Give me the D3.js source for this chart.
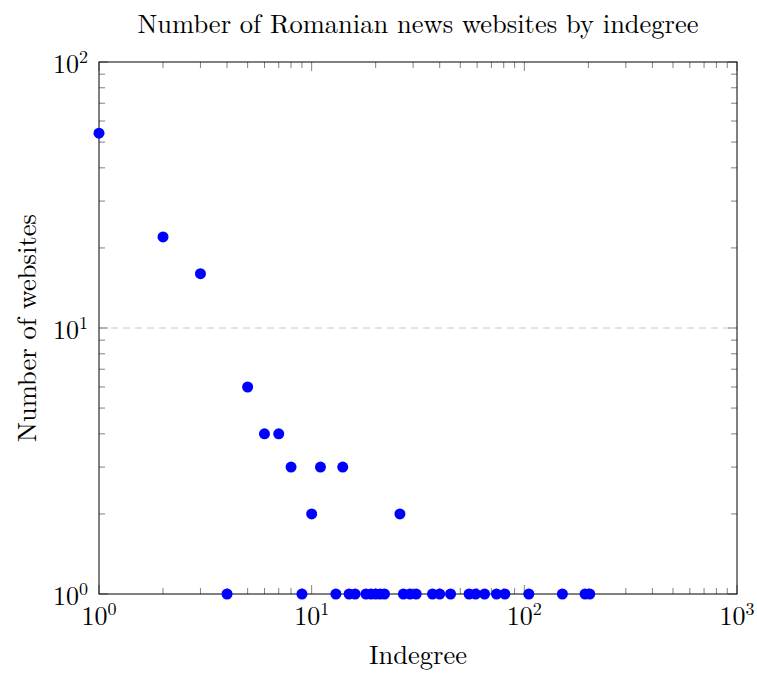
<!DOCTYPE html>
<html>
<head>
<meta charset="utf-8">
<script src="https://cdn.jsdelivr.net/npm/d3@7"></script>
<style>
  body { margin: 0; background: #fff; }
  text { font-family: "Latin Modern Roman", "Liberation Serif", "DejaVu Serif", serif; fill: #000; }
</style>
</head>
<body>
<div id="chart"></div>
<script>
// indegree values and number of websites with that indegree
const indegree = [1, 2, 3, 5, 6, 7, 8, 11, 14, 10, 26,
  4, 9, 13, 15, 16, 18, 19, 20, 21, 22, 27, 29, 31, 37, 40, 45,
  55, 59, 65, 74, 81, 105, 151, 193, 203];
const websites = [54, 22, 16, 6, 4, 4, 3, 3, 3, 2, 2,
  1, 1, 1, 1, 1, 1, 1, 1, 1, 1, 1, 1, 1, 1, 1, 1,
  1, 1, 1, 1, 1, 1, 1, 1, 1];
const xTickExp = [0, 1, 2, 3];
const yTickExp = [0, 1, 2];

const data = indegree.map((d, i) => ({ x: d, y: websites[i] }));

const margin = { top: 62, right: 20, bottom: 79, left: 99 };
const width = 757 - margin.left - margin.right;
const height = 673 - margin.top - margin.bottom;

const x = d3.scaleLog().domain([1, 1000]).range([0, width]);
const y = d3.scaleLog().domain([1, 100]).range([height, 0]);

const svg = d3.select('#chart').append('svg')
  .attr('width', 757)
  .attr('height', 673);

const g = svg.append('g')
  .attr('transform', `translate(${margin.left},${margin.top})`);

// minor ticks positions
const minorX = [];
for (let e = 0; e < 3; e++) for (let k = 2; k <= 9; k++) minorX.push(k * Math.pow(10, e));
const minorY = [];
for (let e = 0; e < 2; e++) for (let k = 2; k <= 9; k++) minorY.push(k * Math.pow(10, e));

// grid at 10^1
g.append('line')
  .attr('x1', 0).attr('x2', width)
  .attr('y1', y(10)).attr('y2', y(10))
  .attr('stroke', '#c8c8c8')
  .attr('stroke-width', 1)
  .attr('stroke-dasharray', '7,5');

// ticks (inside, on all four sides)
const tickG = g.append('g').attr('stroke', '#808080').attr('stroke-width', 1);
minorX.forEach(v => {
  tickG.append('line').attr('x1', x(v)).attr('x2', x(v)).attr('y1', height).attr('y2', height - 6);
  tickG.append('line').attr('x1', x(v)).attr('x2', x(v)).attr('y1', 0).attr('y2', 6);
});
minorY.forEach(v => {
  tickG.append('line').attr('y1', y(v)).attr('y2', y(v)).attr('x1', 0).attr('x2', 6);
  tickG.append('line').attr('y1', y(v)).attr('y2', y(v)).attr('x1', width).attr('x2', width - 6);
});
xTickExp.forEach(e => {
  const v = Math.pow(10, e);
  tickG.append('line').attr('x1', x(v)).attr('x2', x(v)).attr('y1', height).attr('y2', height - 9);
  tickG.append('line').attr('x1', x(v)).attr('x2', x(v)).attr('y1', 0).attr('y2', 9);
});
yTickExp.forEach(e => {
  const v = Math.pow(10, e);
  tickG.append('line').attr('y1', y(v)).attr('y2', y(v)).attr('x1', 0).attr('x2', 9);
  tickG.append('line').attr('y1', y(v)).attr('y2', y(v)).attr('x1', width).attr('x2', width - 9);
});

// frame
g.append('rect')
  .attr('width', width).attr('height', height)
  .attr('fill', 'none')
  .attr('stroke', '#000')
  .attr('stroke-width', 1);

// tick labels
xTickExp.forEach(e => {
  const t = g.append('text')
    .attr('x', x(Math.pow(10, e)))
    .attr('y', height + 31)
    .attr('text-anchor', 'middle')
    .style('font-size', '26px');
  t.append('tspan').text('10');
  t.append('tspan').attr('dy', -10).style('font-size', '18px').text(e);
});
yTickExp.forEach(e => {
  const t = g.append('text')
    .attr('x', -11)
    .attr('y', y(Math.pow(10, e)) + 11)
    .attr('text-anchor', 'end')
    .style('font-size', '26px');
  t.append('tspan').text('10');
  t.append('tspan').attr('dy', -10).style('font-size', '18px').text(e);
});

// points
g.append('g')
  .selectAll('circle')
  .data(data)
  .enter().append('circle')
  .attr('cx', d => x(d.x))
  .attr('cy', d => y(d.y))
  .attr('r', 5.5)
  .attr('fill', '#0000ff');

// title and axis labels
svg.append('text')
  .attr('x', margin.left + width / 2)
  .attr('y', 33)
  .attr('text-anchor', 'middle')
  .style('font-size', '26.5px')
  .text('Number of Romanian news websites by indegree');

svg.append('text')
  .attr('x', margin.left + width / 2)
  .attr('y', 664)
  .attr('text-anchor', 'middle')
  .style('font-size', '26.5px')
  .text('Indegree');

svg.append('text')
  .attr('transform', `translate(36,${margin.top + height / 2}) rotate(-90)`)
  .attr('text-anchor', 'middle')
  .style('font-size', '26.5px')
  .text('Number of websites');
</script>
</body>
</html>
